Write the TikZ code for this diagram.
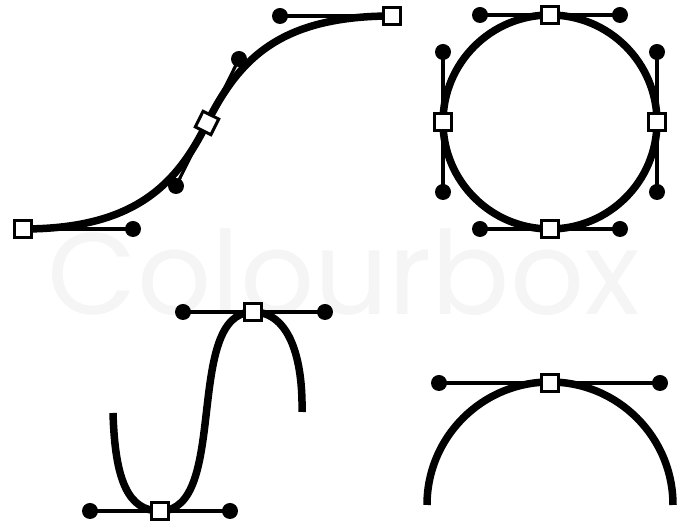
\documentclass[tikz,border=0pt]{standalone}
\usepackage{fontspec}
\newfontfamily\wmfont{Poppins}
\usetikzlibrary{backgrounds}
\begin{document}
\begin{tikzpicture}[x=1pt,y=1pt,
  anchorbox/.style={shape=rectangle, draw=black, fill=white, line width=3pt, minimum size=17.5pt, inner sep=0pt},
  handledot/.style={shape=circle, fill=black, minimum size=16pt, inner sep=0pt},
  handle/.style={line width=3.2pt},
  curve/.style={line width=7.5pt},
  watermark/.style={text=black!4, font=\wmfont\fontsize{116}{116}\selectfont}]
\useasboundingbox (0,0) rectangle (681,526);
% ---------- S curve (top left)
\node[anchorbox] (s1a) at (23,297) {};
\node[handledot] (s1h1) at (133,297) {};
\node[handledot] (s1h2) at (176,340) {};
\node[anchorbox, rotate=63.6] (s1m) at (207,403) {};
\node[handledot] (s1h3) at (239,467) {};
\node[handledot] (s1h4) at (280,510) {};
\node[anchorbox] (s1b) at (392,510) {};
% ---------- circle (top right)
\node[anchorbox] (ct) at (550,511) {};
\node[anchorbox] (cb) at (550,297) {};
\node[anchorbox] (cl) at (443,404) {};
\node[anchorbox] (cr) at (657,404) {};
\node[handledot] (ctl) at (480,511) {};
\node[handledot] (ctr) at (620,511) {};
\node[handledot] (cbl) at (480,297) {};
\node[handledot] (cbr) at (620,297) {};
\node[handledot] (clt) at (443,474) {};
\node[handledot] (clb) at (443,334) {};
\node[handledot] (crt) at (657,474) {};
\node[handledot] (crb) at (657,334) {};
% ---------- wave (bottom left)
\coordinate (wl) at (113,113);
\coordinate (wr) at (302,114);
\node[anchorbox] (wb) at (160,15) {};
\node[handledot] (wbl) at (90,15) {};
\node[handledot] (wbr) at (230,15) {};
\node[anchorbox] (wt) at (253,214) {};
\node[handledot] (wtl) at (183,214) {};
\node[handledot] (wtr) at (325,214) {};
% ---------- arch (bottom right)
\coordinate (al) at (427,21);
\node[anchorbox] (at) at (550,143) {};
\node[handledot] (atl) at (439,143) {};
\node[handledot] (atr) at (660,143) {};

\begin{pgfonlayer}{background}
  \node[watermark] (wm) at (344,254) {Colourbox};
  % handles
  \draw[handle] (s1a.center) -- (s1h1.center);
  \draw[handle] (s1h2.center) -- (s1h3.center);
  \draw[handle] (s1h4.center) -- (s1b.center);
  \draw[handle] (ctl.center) -- (ctr.center);
  \draw[handle] (cbl.center) -- (cbr.center);
  \draw[handle] (clt.center) -- (clb.center);
  \draw[handle] (crt.center) -- (crb.center);
  \draw[handle] (wbl.center) -- (wbr.center);
  \draw[handle] (wtl.center) -- (wtr.center);
  \draw[handle] (atl.center) -- (atr.center);
  % curves
  \draw[curve] (s1a.center) .. controls (s1h1.center) and (s1h2.center) .. (s1m.center)
               .. controls (s1h3.center) and (s1h4.center) .. (s1b.center);
  \draw[curve] (550,404) circle[radius=107];
  \draw[curve] (wl) .. controls (115,46) and (128,15) .. (wb.center)
               .. controls (wbr.center) and (wtl.center) .. (wt.center)
               .. controls (290,214) and (303,166) .. (wr);
  \draw[curve] (al) arc[start angle=180, end angle=0, radius=123];
\end{pgfonlayer}
\end{tikzpicture}
\end{document}
